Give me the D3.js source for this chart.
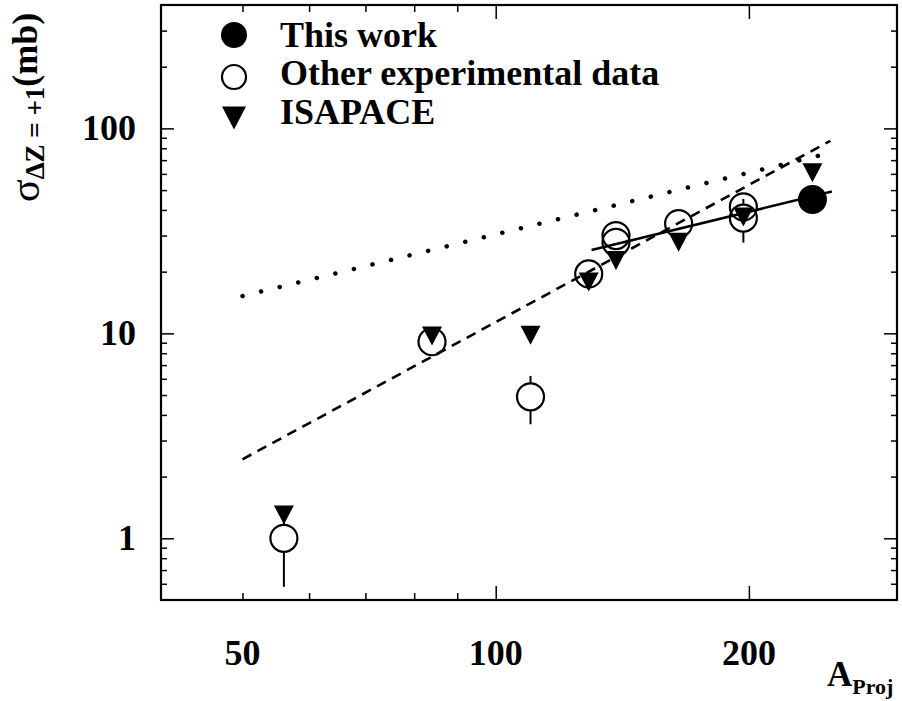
<!DOCTYPE html>
<html><head><meta charset="utf-8">
<script src="https://cdn.jsdelivr.net/npm/d3@7"></script>
<style>
body{margin:0;background:#fff}
text{font-family:"Liberation Serif","Times New Roman",serif;font-weight:bold;fill:#000}
</style>
</head><body>
<svg id="c" width="902" height="701"></svg>
<script>
// ---- data ----
const thisA = [238];
const thisSigma = [45];
const otherA = [56, 84, 110, 129, 139, 139, 165, 197, 197];
const otherSigma = [1.0, 9.1, 4.9, 19.5, 30.0, 27.8, 34.3, 41.4, 36.5];
const otherErr = [0.42, 0.6, 1.3, 1.2, 2.0, 2.0, 2.5, 3.0, 8.8];
const isapaceA = [56, 84, 110, 129, 139, 165, 197, 238];
const isapaceSigma = [1.3, 9.7, 9.8, 17.8, 22.7, 27.8, 37.0, 60.8];
const dottedA = [50, 250];
const dottedSigma = [15.2, 76];
const dashedA = [50, 250];
const dashedSigma = [2.43, 87];
const solidA = [130, 251];
const solidSigma = [25.5, 49.2];
const xMajorTicks = [100, 200];
const xMinorTicks = [50, 60, 70, 80, 90];
const xTickLabels = [50, 100, 200];
const yMajorTicks = [1, 10, 100];
const yMinorTicks = [0.6, 0.7, 0.8, 0.9, 2, 3, 4, 5, 6, 7, 8, 9, 20, 30, 40, 50, 60, 70, 80, 90, 200, 300];
const yTickLabels = [1, 10, 100];
const legendLabels = ["This work", "Other experimental data", "ISAPACE"];

// ---- layout ----
const L = 161, T = 5, R = 897, B = 600;
const svg = d3.select("#c");
const x = d3.scaleLog().domain([40, 300]).range([L, R]);
const y = d3.scaleLog().domain([0.5, 400]).range([B, T]);

// ticks (inward, on all four sides)
function ticks(axisFn, scale, vals, size, tr) {
  const g = svg.append("g").attr("transform", tr)
    .call(axisFn(scale).tickValues(vals).tickSize(size).tickFormat(""));
  g.select(".domain").remove();
  g.selectAll("line").attr("stroke", "#000").attr("stroke-width", 1.5);
}
ticks(d3.axisBottom, x, xMajorTicks, -14, `translate(0,${B})`);
ticks(d3.axisBottom, x, xMinorTicks, -7, `translate(0,${B})`);
ticks(d3.axisTop, x, xMajorTicks, -14, `translate(0,${T})`);
ticks(d3.axisTop, x, xMinorTicks, -7, `translate(0,${T})`);
ticks(d3.axisLeft, y, yMajorTicks, -13, `translate(${L},0)`);
ticks(d3.axisLeft, y, yMinorTicks, -6, `translate(${L},0)`);
ticks(d3.axisRight, y, yMajorTicks, -13, `translate(${R},0)`);
ticks(d3.axisRight, y, yMinorTicks, -6, `translate(${R},0)`);

svg.append("rect").attr("x", L).attr("y", T).attr("width", R - L).attr("height", B - T)
  .attr("fill", "none").attr("stroke", "#000").attr("stroke-width", 2.2);

// tick labels
svg.append("g").selectAll("text").data(xTickLabels).join("text")
  .attr("x", d => x(d)).attr("y", 665).attr("text-anchor", "middle")
  .attr("font-size", 36).text(d => d);
svg.append("g").selectAll("text").data(yTickLabels).join("text")
  .attr("x", 136).attr("y", d => y(d) + 12).attr("text-anchor", "end")
  .attr("font-size", 36).text(d => d);

// axis titles
const xt = svg.append("text").attr("x", 827).attr("y", 686).attr("font-size", 35);
xt.append("tspan").text("A");
xt.append("tspan").attr("font-size", 22).attr("dy", 8).text("Proj");

const yt = svg.append("text").attr("transform", "translate(39,202) rotate(-90)").attr("font-size", 36);
yt.append("tspan").attr("font-size", 42).attr("font-weight", "normal").text("σ");
yt.append("tspan").attr("font-size", 27).attr("dy", 5).text("ΔZ = +1");
yt.append("tspan").attr("dy", -7).text("(mb)");

// lines
const line = d3.line().x(d => x(d[0])).y(d => y(d[1]));
svg.append("path").datum(d3.zip(dottedA, dottedSigma)).attr("d", line)
  .attr("fill", "none").attr("stroke", "#000").attr("stroke-width", 4.5)
  .attr("stroke-linecap", "round").attr("stroke-dasharray", "0.1 19");
svg.append("path").datum(d3.zip(dashedA, dashedSigma)).attr("d", line)
  .attr("fill", "none").attr("stroke", "#000").attr("stroke-width", 2.6)
  .attr("stroke-dasharray", "10 7");
svg.append("path").datum(d3.zip(solidA, solidSigma)).attr("d", line)
  .attr("fill", "none").attr("stroke", "#000").attr("stroke-width", 2.6);

const RAD = 13.5;
// error bars (not drawn inside the marker)
const other = otherA.map((a, i) => ({a, s: otherSigma[i], e: otherErr[i]}));
const eb = svg.append("g").attr("stroke", "#000").attr("stroke-width", 2);
other.forEach(d => {
  const cy = y(d.s), top = y(d.s + d.e), bot = y(d.s - d.e);
  if (cy - top > RAD) eb.append("line").attr("x1", x(d.a)).attr("x2", x(d.a)).attr("y1", top).attr("y2", cy - RAD);
  if (bot - cy > RAD) eb.append("line").attr("x1", x(d.a)).attr("x2", x(d.a)).attr("y1", cy + RAD).attr("y2", bot);
});

// open circles
svg.append("g").selectAll("circle").data(other).join("circle")
  .attr("cx", d => x(d.a)).attr("cy", d => y(d.s)).attr("r", RAD)
  .attr("fill", "none").attr("stroke", "#000").attr("stroke-width", 2.2);

// triangles (pointing down)
const tri = (w, h) => `M${-w/2},${-h/2}L${w/2},${-h/2}L0,${h/2}Z`;
svg.append("g").selectAll("path").data(d3.zip(isapaceA, isapaceSigma)).join("path")
  .attr("transform", d => `translate(${x(d[0])},${y(d[1])})`)
  .attr("d", tri(20, 19)).attr("fill", "#000");

// filled circle
svg.append("g").selectAll("circle").data(d3.zip(thisA, thisSigma)).join("circle")
  .attr("cx", d => x(d[0])).attr("cy", d => y(d[1])).attr("r", 14.5).attr("fill", "#000");

// legend
const lg = svg.append("g");
lg.append("circle").attr("cx", 234).attr("cy", 35).attr("r", 13).attr("fill", "#000");
lg.append("circle").attr("cx", 234).attr("cy", 77).attr("r", 12).attr("fill", "none")
  .attr("stroke", "#000").attr("stroke-width", 2.2);
lg.append("path").attr("transform", "translate(234,118)").attr("d", tri(24, 23)).attr("fill", "#000");
lg.selectAll("text").data(legendLabels).join("text")
  .attr("x", 280).attr("y", (d, i) => [47, 85, 124][i]).attr("font-size", 36).text(d => d);
</script>
</body></html>
